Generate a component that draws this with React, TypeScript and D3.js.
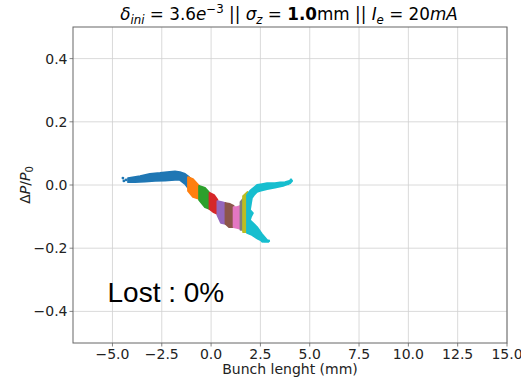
import React from "react";
import * as d3 from "d3";

// ---- data ----
const xTicks = [-5, -2.5, 0, 2.5, 5, 7.5, 10, 12.5, 15];
const yTicks = [-0.4, -0.2, 0, 0.2, 0.4];
const xDomain = [-7, 15];
const yDomain = [-0.5, 0.5];

const sliceColors = ["#1f77b4", "#ff7f0e", "#2ca02c", "#d62728", "#9467bd", "#8c564b", "#e377c2", "#7f7f7f", "#bcbd22", "#17becf"];

// outlines of each longitudinal slice of the particle cloud [z (mm), dP/P0]
const sliceBlue: [number, number][] = [
  [-4.21, 0.022], [-3.6, 0.028], [-3.1, 0.035], [-2.59, 0.038], [-2.23, 0.041], [-1.83, 0.043],
  [-1.58, 0.041], [-1.32, 0.035], [-1.17, 0.028], [-1.02, 0.019], [-1.02, -0.013], [-1.17, -0.009],
  [-1.32, 0.003], [-1.58, 0.016], [-1.83, 0.016], [-2.34, 0.014], [-2.84, 0.013], [-3.35, 0.011],
  [-3.86, 0.009], [-4.21, 0.009],
];
const sliceOrange: [number, number][] = [
  [-1.17, 0.025], [-0.92, 0.019], [-0.61, -0.003], [-0.61, -0.044], [-0.92, -0.038], [-1.17, -0.019],
];
const sliceGreen: [number, number][] = [
  [-0.61, -0.003], [-0.31, -0.009], [-0.08, -0.025], [-0.08, -0.076], [-0.31, -0.07], [-0.61, -0.047],
];
const sliceRed: [number, number][] = [
  [-0.08, -0.025], [0.15, -0.032], [0.32, -0.047], [0.32, -0.092], [0.1, -0.085], [-0.08, -0.076],
];
const slicePurple: [number, number][] = [
  [0.32, -0.051], [0.55, -0.054], [0.73, -0.057], [0.73, -0.123], [0.5, -0.12], [0.32, -0.095],
];
const sliceBrown: [number, number][] = [
  [0.73, -0.057], [0.96, -0.06], [1.14, -0.066], [1.14, -0.133], [0.91, -0.133], [0.73, -0.123],
];
const slicePink: [number, number][] = [
  [1.14, -0.07], [1.31, -0.07], [1.49, -0.066], [1.49, -0.139], [1.31, -0.136], [1.14, -0.133],
];
const sliceGray: [number, number][] = [
  [1.49, -0.054], [1.62, -0.044], [1.62, -0.142], [1.49, -0.142],
];
const sliceOlive: [number, number][] = [
  [1.62, -0.035], [1.85, -0.022], [1.85, -0.149], [1.62, -0.149],
];
const sliceCyan: [number, number][] = [
  [1.82, -0.032], [1.97, -0.019], [2.07, -0.013], [2.33, 0.0], [2.58, 0.003], [2.84, 0.006], [3.24, 0.006],
  [3.5, 0.008], [3.75, 0.009], [4.01, 0.014], [4.11, 0.013], [4.01, 0.006], [3.65, -0.003], [3.24, -0.008],
  [2.84, -0.013], [2.48, -0.019], [2.33, -0.022], [2.17, -0.032], [2.07, -0.041], [2.02, -0.06], [1.97, -0.079],
  [2.12, -0.089], [2.02, -0.101], [1.97, -0.111], [2.17, -0.123], [2.33, -0.133], [2.58, -0.155], [2.84, -0.174],
  [2.89, -0.18], [2.69, -0.18], [2.38, -0.171], [2.07, -0.158], [1.82, -0.152],
];
const slices = [sliceBlue, sliceOrange, sliceGreen, sliceRed, slicePurple, sliceBrown, slicePink, sliceGray, sliceOlive, sliceCyan];

// sparse isolated particles
const strayBlue: [number, number][] = [
  [-4.47, 0.022], [-4.42, 0.013], [-4.31, 0.016], [-4.11, 0.016], [-3.91, 0.019], [-3.75, 0.024],
];
const strayCyan: [number, number][] = [
  [4.05, 0.016], [3.9, 0.004], [2.92, -0.177], [2.6, -0.178],
];

const W = 521, H = 381;
const L = 73, R = 507, T = 27, B = 343;

export default function App() {
  const x = d3.scaleLinear().domain(xDomain).range([L, R]);
  const y = d3.scaleLinear().domain(yDomain).range([B, T]);
  const line = d3.line<[number, number]>().x(d => x(d[0])).y(d => y(d[1])).curve(d3.curveLinearClosed);
  const fmt = (v: number) => d3.format(".1f")(v).replace("-", "\u2212");
  const font = "'DejaVu Sans', sans-serif";
  const tickColor = "#222";
  const spine = "#666";
  const fs = 14;
  const tfs = 16.8;
  const sub = 11.8;
  return (
    <svg width={W} height={H} style={{ position: "absolute", left: 0, top: 0, background: "#fff" }} fontFamily={font}>
      <rect x={0} y={0} width={W} height={H} fill="#fff" />
      {/* grid */}
      {xTicks.map(t => (
        <line key={"gx" + t} x1={x(t)} x2={x(t)} y1={T} y2={B} stroke="#d0d0d0" strokeWidth={0.8} />
      ))}
      {yTicks.map(t => (
        <line key={"gy" + t} x1={L} x2={R} y1={y(t)} y2={y(t)} stroke="#d0d0d0" strokeWidth={0.8} />
      ))}
      {/* particles */}
      <g>
        {slices.map((s, i) => (
          <path key={"s" + i} d={line(s) || ""} fill={sliceColors[i]} stroke={sliceColors[i]} strokeWidth={1.8} strokeLinejoin="round" />
        ))}
        {strayBlue.map((p, i) => (
          <circle key={"b" + i} cx={x(p[0])} cy={y(p[1])} r={1.4} fill={sliceColors[0]} />
        ))}
        {strayCyan.map((p, i) => (
          <circle key={"c" + i} cx={x(p[0])} cy={y(p[1])} r={1.4} fill={sliceColors[9]} />
        ))}
      </g>
      {/* spines */}
      <rect x={L} y={T} width={R - L} height={B - T} fill="none" stroke={spine} strokeWidth={1} />
      {/* ticks */}
      {xTicks.map(t => (
        <g key={"tx" + t}>
          <line x1={x(t)} x2={x(t)} y1={B} y2={B + 3.5} stroke={spine} strokeWidth={0.8} />
          <text x={x(t)} y={358.5} textAnchor="middle" fontSize={fs} fill={tickColor}>{fmt(t)}</text>
        </g>
      ))}
      {yTicks.map(t => (
        <g key={"ty" + t}>
          <line x1={L - 3.5} x2={L} y1={y(t)} y2={y(t)} stroke={spine} strokeWidth={0.8} />
          <text x={L - 5.5} y={y(t) + 5} textAnchor="end" fontSize={fs} fill={tickColor}>{fmt(t)}</text>
        </g>
      ))}
      {/* axis labels */}
      <text x={(L + R) / 2} y={373.5} textAnchor="middle" fontSize={fs} fill={tickColor}>Bunch lenght (mm)</text>
      <text transform={`translate(29.5,${(T + B) / 2}) rotate(-90)`} textAnchor="middle" fontSize={fs} fill={tickColor}>
        <tspan>Δ</tspan><tspan fontStyle="italic">P</tspan><tspan>/</tspan><tspan fontStyle="italic">P</tspan>
        <tspan fontSize={10} dy={3}>0</tspan>
      </text>
      {/* title */}
      <text x={289} y={20} textAnchor="middle" fontSize={tfs} fill="#000">
        <tspan fontStyle="italic">δ</tspan>
        <tspan fontStyle="italic" fontSize={sub} dy={4}>ini</tspan>
        <tspan dy={-4}> = 3.6</tspan>
        <tspan fontStyle="italic">e</tspan>
        <tspan fontSize={sub} dy={-7}>−3</tspan>
        <tspan dy={7}> || </tspan>
        <tspan fontStyle="italic">σ</tspan>
        <tspan fontStyle="italic" fontSize={sub} dy={4}>z</tspan>
        <tspan dy={-4}> = </tspan>
        <tspan fontWeight="bold">1.0</tspan>
        <tspan>mm || </tspan>
        <tspan fontStyle="italic">I</tspan>
        <tspan fontStyle="italic" fontSize={sub} dy={4}>e</tspan>
        <tspan dy={-4}> = 20</tspan>
        <tspan fontStyle="italic">mA</tspan>
      </text>
      {/* lost text */}
      <text x={107.5} y={302} fontSize={28} fill="#000" fontFamily="'Liberation Sans', Arial, sans-serif">Lost : 0%</text>
    </svg>
  );
}
